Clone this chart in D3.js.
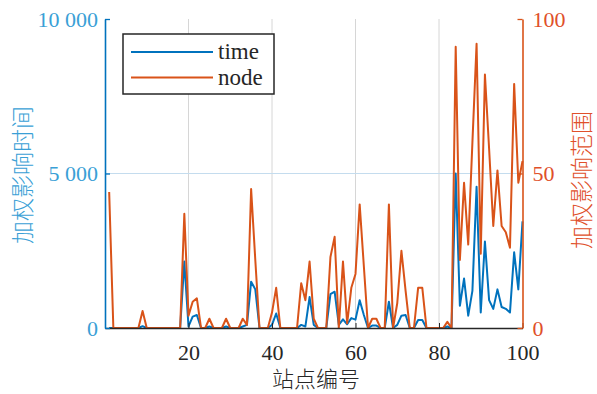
<!DOCTYPE html>
<html><head><meta charset="utf-8">
<script src="https://cdn.jsdelivr.net/npm/d3@7"></script>
<style>
html,body{margin:0;padding:0;background:#fff;}
svg{display:block;}
</style></head>
<body>
<svg id="chart" width="597" height="394"></svg>
<script>
// station numbers (categories)
const stations = d3.range(1, 101);
// weighted influence time (left axis)
const timeValues = [
  0,0,0,0,0,0,0,0,60,0,
  0,0,0,0,0,0,0,0,2150,50,
  370,420,0,0,50,0,0,0,50,0,
  0,0,50,100,1500,1250,0,0,0,100,
  470,0,0,0,0,0,100,50,1000,100,
  0,0,0,1100,1175,100,280,120,320,270,
  900,420,0,80,80,0,0,850,0,100,
  400,420,0,0,260,260,0,0,0,0,
  0,50,0,5000,720,1600,400,1200,4570,500,
  2800,900,620,1250,680,620,500,2450,1250,3450
];
// weighted influence range (right axis)
const nodeValues = [
  44,0,0,0,0,0,0,0,5.5,0,
  0,0,0,0,0,0,0,0,37,4,
  8.5,9.6,0,0,3,0,0,0,3,0,
  0,0,3,1,45,22,0,0,0,5,
  13,0,0,0,0,0,14.5,9,21.5,3,
  0,0,0,23,29.5,0,21.5,1.5,13,17.5,
  40,20,0,3,3,0,0,40,0,8,
  25,12,0,0,13,13,0,0,0,0,
  0,2,0,91,22,47,27,60,92,24,
  82,58,33,51,33,31,26,79,47,54
];
const xTicks = [20, 40, 60, 80, 100];
const leftTicks = [0, 5000, 10000];
const rightTicks = [0, 50, 100];
const seriesNames = ["time", "node"];

const svg = d3.select("#chart");
const L = 105, R = 522.5, T = 19, B = 328;
const blue = "#0072BD", orange = "#D95319";
const blueText = "#3a9fd6", orangeText = "#e0502a";

const x = d3.scaleLinear().domain([0, 100]).range([L, R]);
const yL = d3.scaleLinear().domain([0, 10000]).range([B, T]);
const yR = d3.scaleLinear().domain([0, 100]).range([B, T]);

svg.append("rect").attr("width", 597).attr("height", 394).attr("fill", "#fff");

// grid
svg.append("g").selectAll("line").data(xTicks.filter(d => d < 100)).join("line")
  .attr("x1", d => x(d)).attr("x2", d => x(d)).attr("y1", T).attr("y2", B)
  .attr("stroke", "#d6d6d6").attr("stroke-width", 1);
svg.append("g").selectAll("line").data([5000]).join("line")
  .attr("x1", L).attr("x2", R).attr("y1", d => yL(d)).attr("y2", d => yL(d))
  .attr("stroke", "#c4dcee").attr("stroke-width", 1);

// lines
const lineT = d3.line().x((d, i) => x(stations[i])).y(d => yL(d));
const lineN = d3.line().x((d, i) => x(stations[i])).y(d => yR(d));
svg.append("path").datum(timeValues).attr("d", lineT)
  .attr("fill", "none").attr("stroke", blue).attr("stroke-width", 2).attr("stroke-linejoin", "round");
svg.append("path").datum(nodeValues).attr("d", lineN)
  .attr("fill", "none").attr("stroke", orange).attr("stroke-width", 2).attr("stroke-linejoin", "round");

const fmt = d => d3.format(",")(d).replace(/,/g, " ");
const fontSerif = "'Liberation Serif','DejaVu Serif',serif";

// bottom axis
const gx = svg.append("g").attr("transform", `translate(0,${B})`)
  .call(d3.axisBottom(x).tickValues(xTicks).tickSizeInner(-5).tickSizeOuter(0).tickPadding(16));
gx.select(".domain").attr("stroke", "#262626").attr("stroke-width", 1.3);
gx.selectAll(".tick line").attr("stroke", "#262626");
gx.selectAll("text").attr("font-family", fontSerif).attr("font-size", 22).attr("fill", "#262626");

// left axis
const gl = svg.append("g").attr("transform", `translate(${L},0)`)
  .call(d3.axisLeft(yL).tickValues(leftTicks).tickFormat(fmt).tickSizeInner(-5).tickSizeOuter(0).tickPadding(7));
gl.select(".domain").attr("stroke", blue).attr("stroke-width", 1.6);
gl.selectAll(".tick line").attr("stroke", blue).attr("stroke-width", 1.3);
gl.selectAll("text").attr("font-family", fontSerif).attr("font-size", 22).attr("fill", blueText);

// right axis
const gr = svg.append("g").attr("transform", `translate(${R},0)`)
  .call(d3.axisRight(yR).tickValues(rightTicks).tickSizeInner(-5).tickSizeOuter(0).tickPadding(10));
gr.select(".domain").attr("stroke", orange).attr("stroke-width", 1.6);
gr.selectAll(".tick line").attr("stroke", orange).attr("stroke-width", 1.3);
gr.selectAll("text").attr("font-family", fontSerif).attr("font-size", 22).attr("fill", orangeText);

// axis titles
const fontCJK = "'Noto Sans CJK SC','Noto Sans',sans-serif";
svg.append("text").attr("transform", "translate(31,175) rotate(-90)")
  .attr("text-anchor", "middle").attr("font-family", fontCJK).attr("font-size", 23)
  .attr("font-weight", 300).attr("fill", blueText).text("加权影响时间");
svg.append("text").attr("transform", "translate(590,180) rotate(-90)")
  .attr("text-anchor", "middle").attr("font-family", fontCJK).attr("font-size", 23)
  .attr("font-weight", 300).attr("fill", orangeText).text("加权影响范围");
svg.append("text").attr("x", 316).attr("y", 387)
  .attr("text-anchor", "middle").attr("font-family", fontCJK).attr("font-size", 22)
  .attr("font-weight", 300).attr("fill", "#262626").text("站点编号");

// legend
const lg = svg.append("g");
lg.append("rect").attr("x", 123).attr("y", 34).attr("width", 151).attr("height", 60)
  .attr("fill", "#fff").attr("stroke", "#262626").attr("stroke-width", 1.5);
const legendColors = [blue, orange];
seriesNames.forEach((name, i) => {
  const yy = 52 + i * 25.5;
  lg.append("line").attr("x1", 131).attr("x2", 213).attr("y1", yy).attr("y2", yy)
    .attr("stroke", legendColors[i]).attr("stroke-width", 2);
  lg.append("text").attr("x", 218).attr("y", yy + 7).attr("font-family", fontSerif)
    .attr("font-size", 23).attr("fill", "#262626").text(name);
});
</script>
</body></html>
